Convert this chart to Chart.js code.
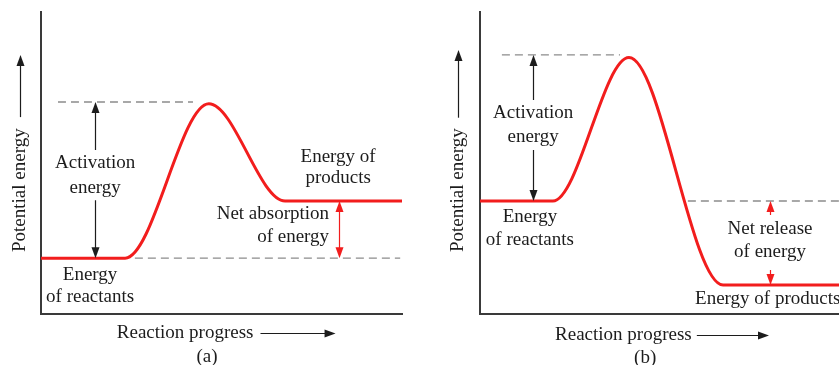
<!DOCTYPE html>
<html>
<head>
<meta charset="utf-8">
<script src="https://cdn.jsdelivr.net/npm/chart.js@4.4.1/dist/chart.umd.min.js"></script>
<style>
  body { margin: 0; background: #fff; }
  #wrap { position: relative; width: 839px; height: 365px; overflow: hidden; }
  canvas { position: absolute; top: 0; }
</style>
</head>
<body>
<div id="wrap">
  <canvas id="chartA" width="420" height="365" style="left:0"></canvas>
  <canvas id="chartB" width="419" height="365" style="left:420px"></canvas>
</div>
<script>
// Data (reaction progress 0-100, potential energy 0-100)
const progressA = [0, 23.3, 46.5, 67.6, 100];
const energyA = [18.5, 18.5, 69.6, 37.4, 37.4];
const progressB = [0, 20.3, 41.5, 67.7, 100];
const energyB = [37.4, 37.4, 84.9, 9.6, 9.6];

// energy levels: reactants, peak, products
const levelsA = [18.5, 70.2, 37.4];
const levelsB = [37.4, 85.8, 9.6];

const axisTitleX = 'Reaction progress';
const axisTitleY = 'Potential energy';
const panelNames = ['(a)', '(b)'];

const RED = '#f21d1d';
const INK = '#1c1c1c';
const FONT = '19px "Liberation Serif", "DejaVu Serif", serif';

function head(ctx, x, y, dx, dy, color) {
    // tip at (x,y), pointing along (dx,dy)
    ctx.fillStyle = color;
    ctx.beginPath();
    ctx.moveTo(x, y);
    ctx.lineTo(x - dx * 11 - dy * 4, y - dy * 11 - dx * 4);
    ctx.lineTo(x - dx * 11 + dy * 4, y - dy * 11 + dx * 4);
    ctx.closePath();
    ctx.fill();
}

// arrows + text drawn on top of the chart, positioned in data units
function notesPlugin(spec) {
    return {
        id: 'notes',
        afterDraw(chart) {
            const ctx = chart.ctx;
            const sx = chart.scales.x, sy = chart.scales.y;
            const px = v => sx.getPixelForValue(v);
            const py = v => sy.getPixelForValue(v);
            ctx.save();

            // vertical double arrows
            spec.arrows.forEach(a => {
                const x = Math.round(px(a.x)) + 0.5;
                const top = py(a.from), bot = py(a.to);
                ctx.strokeStyle = a.color;
                ctx.lineWidth = 1.2;
                ctx.beginPath();
                if (a.gap) {
                    ctx.moveTo(x, top + 4); ctx.lineTo(x, py(a.gap[0]));
                    ctx.moveTo(x, py(a.gap[1])); ctx.lineTo(x, bot - 4);
                } else {
                    ctx.moveTo(x, top + 4); ctx.lineTo(x, bot - 4);
                }
                ctx.stroke();
                head(ctx, x, top, 0, -1, a.color);
                head(ctx, x, bot, 0, 1, a.color);
            });

            // texts
            ctx.font = FONT;
            ctx.fillStyle = INK;
            ctx.textBaseline = 'middle';
            spec.texts.forEach(t => {
                ctx.textAlign = t.align || 'center';
                ctx.fillText(t.text, px(t.x), py(t.y));
            });

            // axis titles with arrows
            const xt = spec.xTitle;
            ctx.textAlign = 'left';
            ctx.fillStyle = INK;
            ctx.fillText(axisTitleX, px(xt.x), py(xt.y));
            ctx.strokeStyle = INK;
            ctx.lineWidth = 1.2;
            ctx.beginPath();
            ctx.moveTo(px(xt.arrow[0]), Math.round(py(xt.y)) + 0.5);
            ctx.lineTo(px(xt.arrow[1]) - 8, Math.round(py(xt.y)) + 0.5);
            ctx.stroke();
            head(ctx, px(xt.arrow[1]), Math.round(py(xt.y)) + 0.5, 1, 0, INK);

            ctx.textAlign = 'center';
            ctx.fillText(spec.name, px(xt.nameX), py(xt.nameY));

            const yt = spec.yTitle;
            ctx.save();
            ctx.translate(px(yt.x), py(yt.y));
            ctx.rotate(-Math.PI / 2);
            ctx.textAlign = 'center';
            ctx.fillText(axisTitleY, 0, 0);
            ctx.restore();
            const ax = Math.round(px(yt.x)) + 0.5;
            ctx.beginPath();
            ctx.moveTo(ax, py(yt.arrow[0]));
            ctx.lineTo(ax, py(yt.arrow[1]) + 8);
            ctx.stroke();
            head(ctx, ax, py(yt.arrow[1]), 0, -1, INK);

            ctx.restore();
        }
    };
}

function makePanel(id, progress, energy, dashes, padding, spec) {
    const pts = progress.map((x, i) => ({ x: x, y: energy[i] }));
    const dashSets = dashes.map(d => ({
        data: [{ x: d[0], y: d[2] }, { x: d[1], y: d[2] }],
        borderColor: '#8c8c8c',
        borderWidth: 1.4,
        borderDash: [8, 5],
        pointRadius: 0
    }));
    const axis = {
        type: 'linear', min: 0, max: 100,
        ticks: { display: false },
        grid: { display: false, drawTicks: false },
        border: { display: true, color: '#3a3a3a', width: 2 }
    };
    return new Chart(document.getElementById(id), {
        type: 'line',
        data: {
            datasets: dashSets.concat([{
                data: pts,
                borderColor: RED,
                borderWidth: 3,
                cubicInterpolationMode: 'monotone',
                pointRadius: 0
            }])
        },
        options: {
            responsive: false,
            animation: false,
            layout: { padding: padding },
            plugins: { legend: { display: false }, tooltip: { enabled: false } },
            scales: {
                x: Object.assign({}, axis),
                y: Object.assign({}, axis)
            }
        },
        plugins: [notesPlugin(spec)]
    });
}

// Panel (a): endothermic
makePanel('chartA', progressA, energyA,
    [[4.7, 42.1, levelsA[1]], [26, 99.5, levelsA[0]]],
    { left: 41, right: 18, top: 12, bottom: 51 },
    {
        name: panelNames[0],
        arrows: [
            { x: 15, from: levelsA[1], to: levelsA[0], gap: [54.3, 37.7], color: INK },
            { x: 82.5, from: levelsA[2], to: levelsA[0], color: RED }
        ],
        texts: [
            { text: 'Activation', x: 15, y: 50 },
            { text: 'energy', x: 15, y: 41.7 },
            { text: 'Energy of', x: 82.3, y: 52 },
            { text: 'products', x: 82.3, y: 45 },
            { text: 'Net absorption', x: 79.8, y: 33.1, align: 'right' },
            { text: 'of energy', x: 79.8, y: 25.5, align: 'right' },
            { text: 'Energy', x: 13.6, y: 12.9 },
            { text: 'of reactants', x: 13.6, y: 5.6 }
        ],
        xTitle: { x: 21, y: -6.3, arrow: [60.8, 81.6], nameX: 46, nameY: -14.2 },
        yTitle: { x: -5.8, y: 41, arrow: [65.2, 85.8] }
    });

// Panel (b): exothermic
makePanel('chartB', progressB, energyB,
    [[6.1, 39, levelsB[1]], [57.9, 100, levelsB[0]]],
    { left: 60, right: 0, top: 12, bottom: 51 },
    {
        name: panelNames[1],
        arrows: [
            { x: 14.8, from: levelsB[1], to: levelsB[0], gap: [70.9, 54.3], color: INK },
            { x: 80.8, from: levelsB[0], to: levelsB[2], gap: [32.8, 14.6], color: RED }
        ],
        texts: [
            { text: 'Activation', x: 14.8, y: 66.6 },
            { text: 'energy', x: 14.8, y: 58.6 },
            { text: 'Energy', x: 13.9, y: 32.1 },
            { text: 'of reactants', x: 13.9, y: 24.5 },
            { text: 'Net release', x: 80.8, y: 28.1 },
            { text: 'of energy', x: 80.8, y: 20.5 },
            { text: 'Energy of products', x: 59.9, y: 5, align: 'left' }
        ],
        xTitle: { x: 20.9, y: -7, arrow: [60.4, 80.5], nameX: 46, nameY: -14.6 },
        yTitle: { x: -6.1, y: 41, arrow: [65, 87.4] }
    });
</script>
</body>
</html>
